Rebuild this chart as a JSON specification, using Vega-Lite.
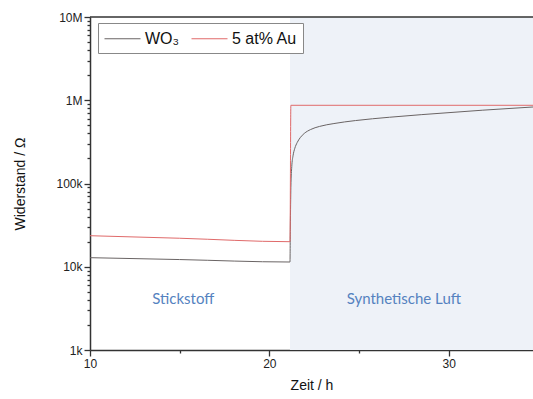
{
  "$schema": "https://vega.github.io/schema/vega-lite/v6.json",
  "width": 443,
  "height": 333,
  "autosize": {"type": "none"},
  "padding": {"left": 90, "top": 17, "right": 0, "bottom": 49},
  "background": "white",
  "config": {
    "view": {"stroke": null},
    "font": "Liberation Sans",
    "axis": {
      "grid": false,
      "labelFont": "Liberation Sans",
      "labelFontSize": 12,
      "labelColor": "#222",
      "labelFlush": false,
      "titleFont": "Liberation Sans",
      "titleFontSize": 14,
      "titleFontWeight": "normal",
      "titleColor": "#111",
      "domainColor": "#333",
      "domainWidth": 1.5,
      "tickColor": "#333",
      "tickWidth": 1.3,
      "tickSize": 6,
      "labelPadding": 2
    },
    "legend": {
      "orient": "none",
      "legendX": 8,
      "legendY": 6,
      "direction": "horizontal",
      "symbolType": "M-1,0H3",
      "symbolSize": 324,
      "symbolStrokeWidth": 1,
      "symbolFillColor": "transparent",
      "labelFont": "Liberation Sans",
      "labelFontSize": 16,
      "labelColor": "#111",
      "labelOffset": 22,
      "fillColor": "white",
      "strokeColor": "#888",
      "padding": 6,
      "columnPadding": 9
    }
  },
  "datasets": {
    "region": [{"x1": 21.15, "x2": 34.7, "y1": 1000, "y2": 10000000}],
    "series": [
      {"t": 10, "r": 12850, "s": "WO₃"},
      {"t": 15, "r": 12200, "s": "WO₃"},
      {"t": 21.15, "r": 11400, "s": "WO₃"},
      {"t": 21.17, "r": 30000, "s": "WO₃"},
      {"t": 21.2, "r": 90000, "s": "WO₃"},
      {"t": 21.25, "r": 160000, "s": "WO₃"},
      {"t": 21.32, "r": 215000, "s": "WO₃"},
      {"t": 21.42, "r": 265000, "s": "WO₃"},
      {"t": 21.55, "r": 310000, "s": "WO₃"},
      {"t": 21.72, "r": 355000, "s": "WO₃"},
      {"t": 21.95, "r": 400000, "s": "WO₃"},
      {"t": 22.3, "r": 445000, "s": "WO₃"},
      {"t": 22.8, "r": 485000, "s": "WO₃"},
      {"t": 23.6, "r": 525000, "s": "WO₃"},
      {"t": 24.8, "r": 570000, "s": "WO₃"},
      {"t": 26.7, "r": 625000, "s": "WO₃"},
      {"t": 28.5, "r": 672000, "s": "WO₃"},
      {"t": 31.9, "r": 760000, "s": "WO₃"},
      {"t": 34.7, "r": 830000, "s": "WO₃"},
      {"t": 10, "r": 23600, "s": "5 at% Au"},
      {"t": 15, "r": 22000, "s": "5 at% Au"},
      {"t": 21.15, "r": 20000, "s": "5 at% Au"},
      {"t": 21.2, "r": 870000, "s": "5 at% Au"},
      {"t": 34.7, "r": 870000, "s": "5 at% Au"}
    ],
    "labels": [
      {"t": 15.2, "r": 4100, "txt": "Stickstoff"},
      {"t": 27.5, "r": 4100, "txt": "Synthetische Luft"}
    ],
    "top": [{"r": 10000000}]
  },
  "resolve": {"axis": {"x": "independent", "y": "independent"}},
  "layer": [
    {
      "data": {"name": "region"},
      "mark": {"type": "rect", "fill": "#eef2f8"},
      "encoding": {
        "x": {"field": "x1", "type": "quantitative",
              "scale": {"domain": [10, 34.7], "nice": false, "zero": false},
              "axis": {"orient": "bottom", "values": [15, 25], "labels": false, "domain": false, "tickSize": 3, "title": null}},
        "x2": {"field": "x2"},
        "y": {"field": "y1", "type": "quantitative",
              "scale": {"type": "log", "domain": [1000, 10000000], "nice": false},
              "axis": {"orient": "left", "values": [2000,3000,4000,5000,6000,7000,8000,9000,20000,30000,40000,50000,60000,70000,80000,90000,200000,300000,400000,500000,600000,700000,800000,900000,2000000,3000000,4000000,5000000,6000000,7000000,8000000,9000000], "labels": false, "domain": false, "tickSize": 3, "title": null}},
        "y2": {"field": "y2"}
      }
    },
    {
      "data": {"name": "top"},
      "mark": {"type": "rule", "stroke": "#333", "strokeWidth": 1.5},
      "encoding": {
        "y": {"field": "r", "type": "quantitative", "axis": null}
      }
    },
    {
      "data": {"name": "series"},
      "mark": {"type": "line", "strokeWidth": 1, "clip": true, "interpolate": "monotone"},
      "encoding": {
        "x": {"field": "t", "type": "quantitative",
              "axis": {"orient": "bottom", "values": [10, 20, 30], "title": "Zeit / h", "titlePadding": 9}},
        "y": {"field": "r", "type": "quantitative",
              "axis": {"orient": "left", "values": [1000, 10000, 100000, 1000000, 10000000],
                       "labelExpr": "datum.value >= 1000000 ? (datum.value/1000000) + 'M' : (datum.value/1000) + 'k'",
                       "title": "Widerstand / Ω", "titlePadding": 28}},
        "color": {"field": "s", "type": "nominal",
                  "scale": {"domain": ["WO₃", "5 at% Au"], "range": ["#6a6464", "#e06a6a"]},
                  "legend": {"title": null}},
        "order": {"field": "t", "type": "quantitative"}
      }
    },
    {
      "data": {"name": "labels"},
      "mark": {"type": "text", "font": "Lato", "fontSize": 15, "color": "#5582c0"},
      "encoding": {
        "x": {"field": "t", "type": "quantitative", "axis": null},
        "y": {"field": "r", "type": "quantitative", "axis": null},
        "text": {"field": "txt"}
      }
    }
  ]
}
